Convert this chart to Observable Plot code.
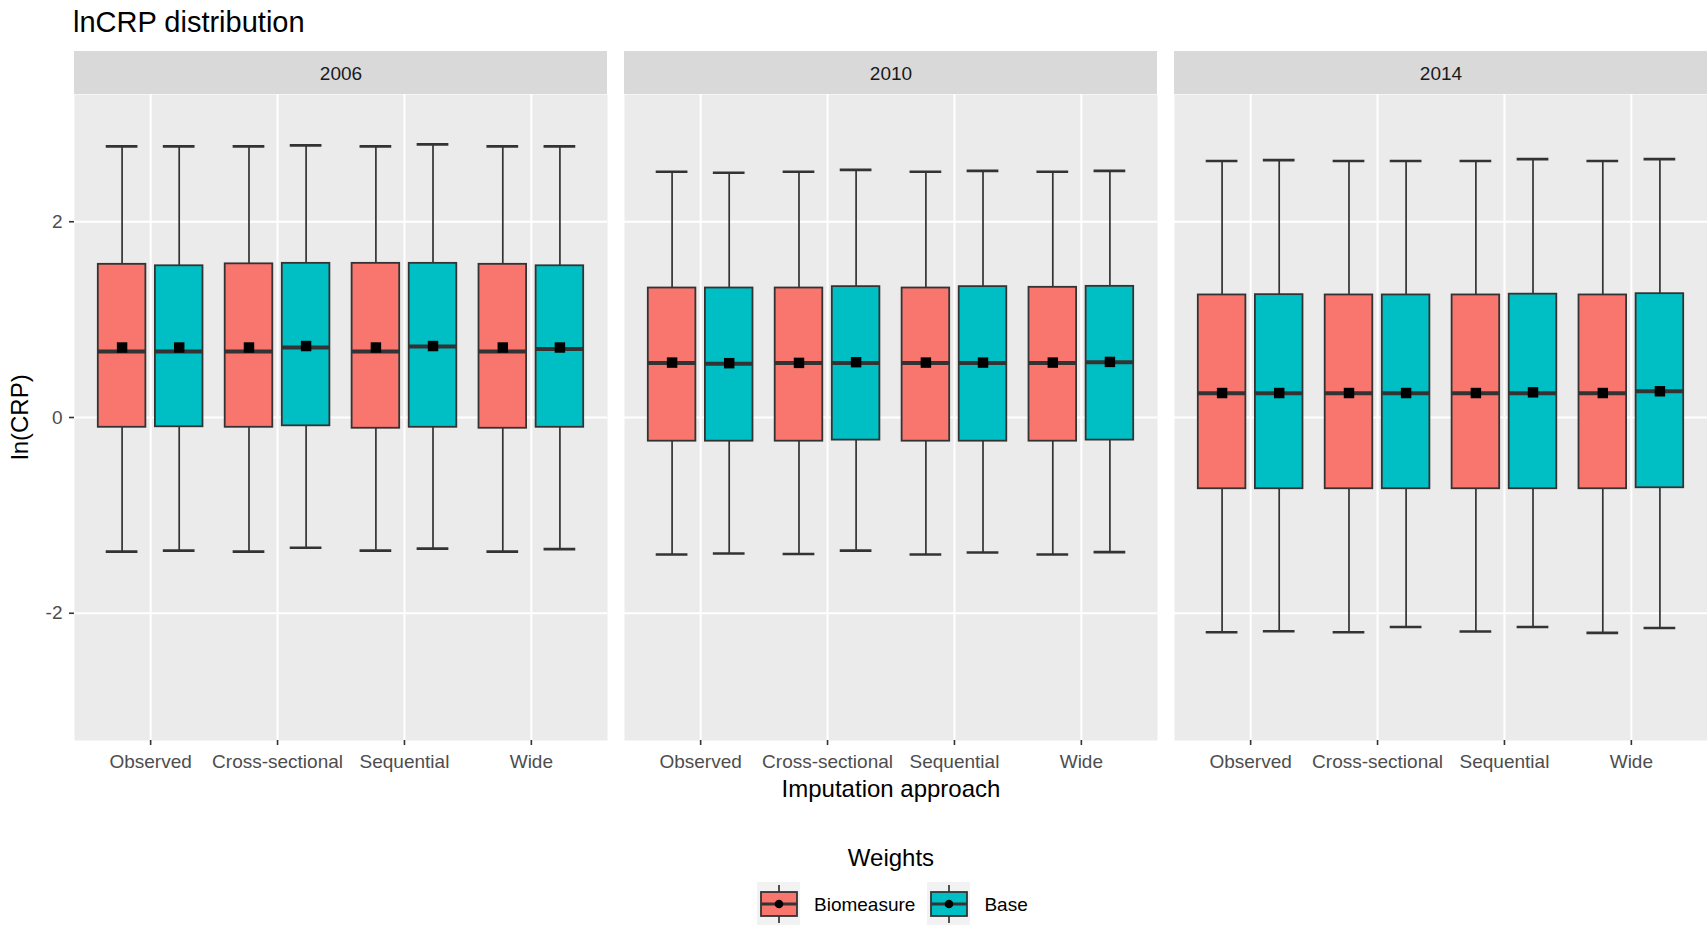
<!DOCTYPE html>
<html>
<head>
<meta charset="utf-8">
<script src="https://cdn.jsdelivr.net/npm/d3@7"></script>
<script src="https://cdn.jsdelivr.net/npm/@observablehq/plot@0.6"></script>
<style>
  html, body { margin: 0; padding: 0; background: #fff; overflow: hidden; }
  body { width: 1707px; height: 925px; position: relative; font-family: "Liberation Sans", Arial, sans-serif; }
  #title { position: absolute; left: 73px; top: 8px; font-size: 29px; line-height: 29px; color: #000; white-space: nowrap; }
  #chart { position: absolute; left: 0; top: 51px; }
  #xtitle { position: absolute; left: 391px; width: 1000px; top: 777px; text-align: center; font-size: 24px; line-height: 24px; color: #000; }
  #ytitle { position: absolute; left: -80px; width: 200px; top: 405px; height: 24px; text-align: center; font-size: 24px; line-height: 24px; color: #000; transform: rotate(-90deg); }
  #legendTitle { position: absolute; left: 391px; width: 1000px; top: 846px; text-align: center; font-size: 24px; line-height: 24px; color: #000; }
  #legend { position: absolute; left: 757px; top: 882px; height: 43px; display: flex; align-items: center; }
  #legend .item { display: flex; align-items: center; margin-right: 12px; }
  #legend svg { display: block; margin-right: 14px; }
  #legend span { font-size: 19px; line-height: 19px; color: #000; white-space: nowrap; position: relative; top: 1px; }
</style>
</head>
<body>
<div id="title">lnCRP distribution</div>
<div id="chart"></div>
<div id="ytitle">ln(CRP)</div>
<div id="xtitle">Imputation approach</div>
<div id="legendTitle">Weights</div>
<div id="legend"></div>
<script>
// ---- data ----
const years = ["2006", "2010", "2014"];
const approaches = ["Observed", "Cross-sectional", "Sequential", "Wide"];
const weights = ["Biomeasure", "Base"];
const weightColors = ["#F8766D", "#00BFC4"];
const yTicks = [-2, 0, 2];

// order: for each year, for each approach, Biomeasure then Base
const upperWhisker = [
  2.77, 2.77, 2.77, 2.78, 2.77, 2.79, 2.77, 2.77,
  2.51, 2.50, 2.51, 2.53, 2.51, 2.52, 2.51, 2.52,
  2.62, 2.63, 2.62, 2.62, 2.62, 2.64, 2.62, 2.64
];
const q3 = [
  1.565, 1.55, 1.57, 1.575, 1.575, 1.575, 1.565, 1.55,
  1.323, 1.323, 1.323, 1.337, 1.323, 1.337, 1.33, 1.34,
  1.252, 1.255, 1.252, 1.252, 1.252, 1.26, 1.252, 1.265
];
const medianVal = [
  0.675, 0.675, 0.675, 0.715, 0.675, 0.725, 0.675, 0.70,
  0.558, 0.548, 0.558, 0.558, 0.558, 0.558, 0.558, 0.565,
  0.248, 0.248, 0.248, 0.248, 0.248, 0.248, 0.248, 0.268
];
const meanVal = [
  0.715, 0.715, 0.715, 0.73, 0.715, 0.73, 0.715, 0.715,
  0.561, 0.555, 0.558, 0.565, 0.561, 0.561, 0.561, 0.568,
  0.25, 0.25, 0.25, 0.25, 0.25, 0.257, 0.25, 0.268
];
const q1 = [
  -0.10, -0.095, -0.10, -0.085, -0.11, -0.10, -0.11, -0.10,
  -0.242, -0.242, -0.242, -0.231, -0.242, -0.242, -0.242, -0.231,
  -0.728, -0.728, -0.728, -0.728, -0.728, -0.728, -0.728, -0.718
];
const lowerWhisker = [
  -1.37, -1.36, -1.37, -1.33, -1.36, -1.34, -1.37, -1.345,
  -1.40, -1.39, -1.395, -1.36, -1.40, -1.38, -1.40, -1.375,
  -2.194, -2.184, -2.194, -2.14, -2.187, -2.14, -2.20, -2.15
];

// ---- build table ----
const dodge = 0.225, boxW = 0.375, capW = 0.25;
const rows = [];
let k = 0;
for (const year of years) {
  approaches.forEach((a, ai) => {
    weights.forEach((w, wi) => {
      rows.push({
        year, approach: a, weight: w,
        pos: ai + 1 + (wi === 0 ? -dodge : dodge),
        upper: upperWhisker[k], q3: q3[k], median: medianVal[k],
        mean: meanVal[k], q1: q1[k], lower: lowerWhisker[k]
      });
      k++;
    });
  });
}

const W = 1707, H = 754, mTop = 43, mBottom = 65, mLeft = 73, mRight = 0;
const panelH = H - mTop - mBottom;
const dark = "#333333";

const chart = Plot.plot({
  width: W, height: H,
  marginTop: mTop, marginBottom: mBottom, marginLeft: mLeft, marginRight: mRight,
  style: { fontFamily: "Liberation Sans, Arial, sans-serif", background: "white", overflow: "visible" },
  fx: { domain: years, paddingInner: 0.031, paddingOuter: 0, axis: null, label: null },
  x: { domain: [0.4, 4.6], axis: null },
  y: { domain: [-3.3, 3.3], axis: null },
  color: { domain: weights, range: weightColors },
  marks: [
    Plot.frame({ fill: "#EBEBEB", stroke: "none" }),
    Plot.rect(years, { fx: d => d, fill: "#D9D9D9", insetTop: -mTop, insetBottom: panelH }),
    Plot.text(years, { fx: d => d, text: d => d, frameAnchor: "top", dy: -28.5, fontSize: 19, fill: "#1A1A1A" }),
    Plot.gridY({ ticks: yTicks, stroke: "white", strokeOpacity: 1, strokeWidth: 2 }),
    Plot.gridX({ ticks: [1, 2, 3, 4], stroke: "white", strokeOpacity: 1, strokeWidth: 2 }),
    Plot.ruleX(rows, { fx: "year", x: "pos", y1: "lower", y2: "upper", stroke: dark, strokeWidth: 1.7 }),
    Plot.ruleY(rows, { fx: "year", y: "upper", x1: d => d.pos - capW / 2, x2: d => d.pos + capW / 2, stroke: dark, strokeWidth: 2.6 }),
    Plot.ruleY(rows, { fx: "year", y: "lower", x1: d => d.pos - capW / 2, x2: d => d.pos + capW / 2, stroke: dark, strokeWidth: 2.6 }),
    Plot.rect(rows, { fx: "year", x1: d => d.pos - boxW / 2, x2: d => d.pos + boxW / 2, y1: "q1", y2: "q3", fill: "weight", stroke: dark, strokeWidth: 1.8 }),
    Plot.ruleY(rows, { fx: "year", y: "median", x1: d => d.pos - boxW / 2, x2: d => d.pos + boxW / 2, stroke: dark, strokeWidth: 4 }),
    Plot.dot(rows, { fx: "year", x: "pos", y: "mean", symbol: "square", r: 5.9, fill: "black", stroke: "none" }),
    Plot.axisY({ ticks: yTicks, tickFormat: d => String(d), tickSize: 5, tickPadding: 7, fontSize: 19, fill: "#4D4D4D", stroke: dark, strokeWidth: 1.6, label: null }),
    Plot.axisX({ ticks: [1, 2, 3, 4], tickFormat: i => approaches[i - 1], tickSize: 5, tickPadding: 9, fontSize: 19, fill: "#4D4D4D", stroke: dark, strokeWidth: 1.6, label: null })
  ]
});
document.getElementById("chart").appendChild(chart);

// ---- legend ----
const legend = d3.select("#legend");
weights.forEach((w, i) => {
  const item = legend.append("div").attr("class", "item");
  const svg = item.append("svg").attr("width", 43).attr("height", 43);
  svg.append("rect").attr("width", 43).attr("height", 43).attr("fill", "#F2F2F2");
  svg.append("line").attr("x1", 22).attr("x2", 22).attr("y1", 3).attr("y2", 41).attr("stroke", dark).attr("stroke-width", 1.7);
  svg.append("rect").attr("x", 4).attr("y", 10).attr("width", 36).attr("height", 24)
    .attr("fill", weightColors[i]).attr("stroke", dark).attr("stroke-width", 1.8);
  svg.append("line").attr("x1", 4).attr("x2", 40).attr("y1", 22).attr("y2", 22).attr("stroke", dark).attr("stroke-width", 3);
  svg.append("circle").attr("cx", 22).attr("cy", 22).attr("r", 4.3).attr("fill", "black");
  item.append("span").text(w);
});
</script>
</body>
</html>
